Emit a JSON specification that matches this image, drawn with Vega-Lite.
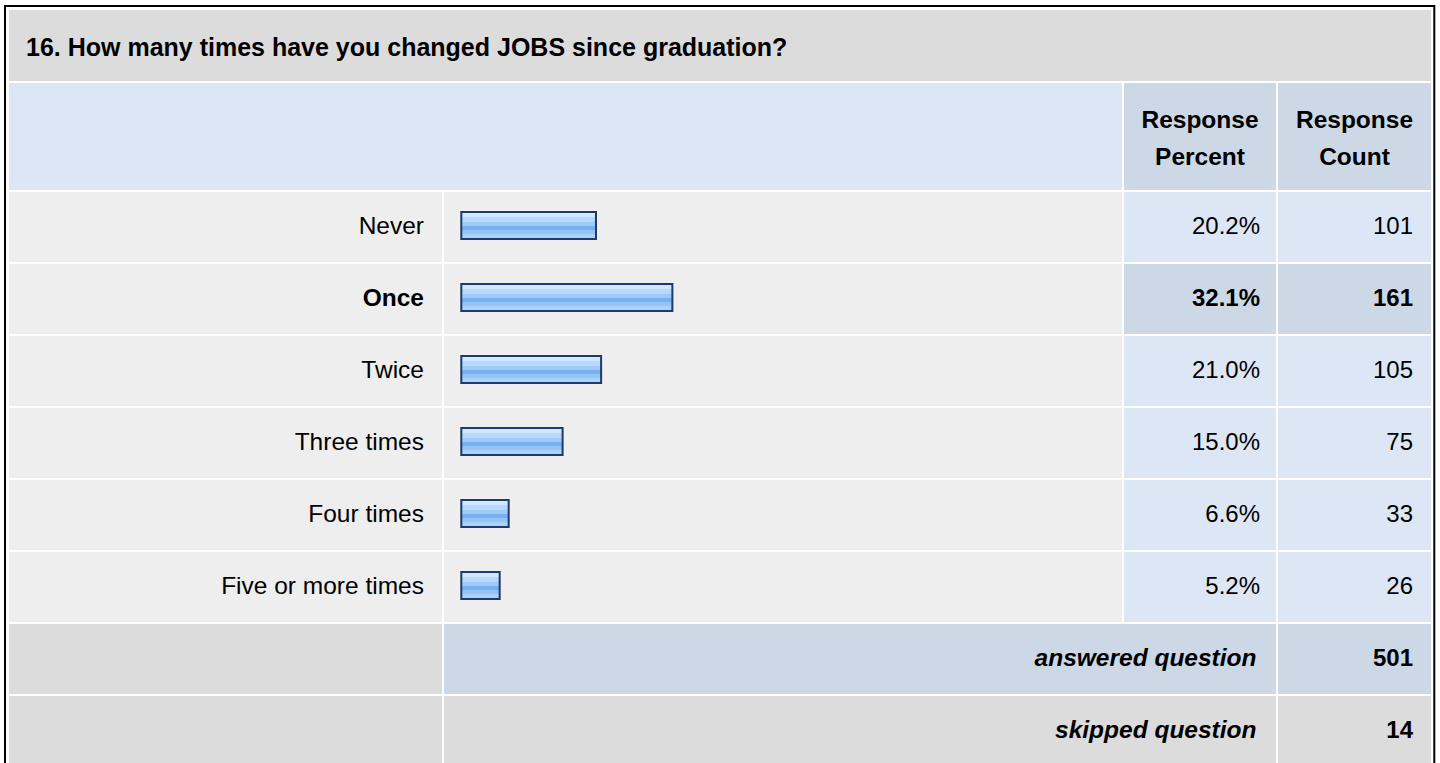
{
  "$schema": "https://vega.github.io/schema/vega-lite/v6.json",
  "background": "white",
  "padding": {"left": 4, "top": 5, "right": 4, "bottom": 0},
  "spacing": 2,
  "bounds": "flush",
  "config": {
    "view": {"stroke": null},
    "text": {"font": "Liberation Sans", "fontSize": 24, "color": "#000000", "baseline": "middle"}
  },
  "datasets": {
    "question": [{"question": "16. How many times have you changed JOBS since graduation?"}],
    "columns": [{"column": "Response Percent"}, {"column": "Response Count"}],
    "rows": [
      {"answer": "Never", "percent": 0.202, "count": 101},
      {"answer": "Once", "percent": 0.321, "count": 161},
      {"answer": "Twice", "percent": 0.21, "count": 105},
      {"answer": "Three times", "percent": 0.15, "count": 75},
      {"answer": "Four times", "percent": 0.066, "count": 33},
      {"answer": "Five or more times", "percent": 0.052, "count": 26},
      {"answer": "answered question", "percent": null, "count": 501},
      {"answer": "skipped question", "percent": null, "count": 14}
    ]
  },
  "vconcat": [
    {
      "width": 1422,
      "height": 71,
      "data": {"name": "question"},
      "resolve": {"scale": {"x": "independent", "y": "independent"}},
      "layer": [
        {"mark": {"type": "rect", "fill": "#DCDCDC"}, "encoding": {}},
        {
          "mark": {"type": "text", "align": "left", "fontWeight": "bold", "fontSize": 25, "dx": 17, "dy": 2},
          "encoding": {
            "x": {"field": "question", "type": "nominal", "axis": null, "bandPosition": 0, "scale": {"type": "band", "paddingInner": 0, "paddingOuter": 0}},
            "text": {"field": "question"}
          }
        },
        {
          "mark": {"type": "rect", "fillOpacity": 0, "stroke": "#000000", "strokeWidth": 2, "xOffset": -4, "x2Offset": 3.3, "yOffset": 687, "y2Offset": -4},
          "encoding": {
            "x": {"datum": 0, "type": "quantitative", "axis": null, "scale": {"domain": [0, 1], "nice": false}},
            "x2": {"datum": 1},
            "y": {"datum": 0, "type": "quantitative", "axis": null, "scale": {"domain": [0, 1], "nice": false}},
            "y2": {"datum": 1}
          }
        }
      ]
    },
    {
      "columns": 4,
      "spacing": 2,
      "bounds": "flush",
      "align": "each",
      "concat": [
        {
          "width": 433,
          "height": 107,
          "data": {"name": "question"},
          "mark": {"type": "rect", "fill": "#DCE6F4", "xOffset": 2},
          "encoding": {"x": {"value": "width"}}
        },
        {
          "width": 678,
          "height": 107,
          "data": {"name": "question"},
          "mark": {"type": "rect", "fill": "#DCE6F4"},
          "encoding": {}
        },
        {
          "width": 152,
          "height": 107,
          "data": {"name": "columns"},
          "transform": [{"filter": "datum.column === 'Response Percent'"}],
          "layer": [
            {"mark": {"type": "rect", "fill": "#CCD8E6"}, "encoding": {}},
            {
              "mark": {"type": "text", "align": "center", "fontWeight": "bold", "fontSize": 24.5, "lineBreak": " ", "lineHeight": 37, "dy": -16},
              "encoding": {"text": {"field": "column"}}
            }
          ]
        },
        {
          "width": 153,
          "height": 107,
          "data": {"name": "columns"},
          "transform": [{"filter": "datum.column === 'Response Count'"}],
          "layer": [
            {"mark": {"type": "rect", "fill": "#CCD8E6"}, "encoding": {}},
            {
              "mark": {"type": "text", "align": "center", "fontWeight": "bold", "fontSize": 24.5, "lineBreak": " ", "lineHeight": 37, "dy": -16},
              "encoding": {"text": {"field": "column"}}
            }
          ]
        },
        {
          "width": 433,
          "height": 574,
          "data": {"name": "rows"},
          "layer": [
            {
              "mark": {"type": "rect"},
              "encoding": {
                "y": {"field": "answer", "type": "nominal", "axis": null, "scale": {"type": "band", "domain": ["Never", "Once", "Twice", "Three times", "Four times", "Five or more times", "answered question", "skipped question"], "paddingInner": 0.0278, "paddingOuter": 0}},
                "fill": {"condition": {"test": "datum.percent == null", "value": "#DCDCDC"}, "value": "#EEEEEE"}
              }
            },
            {
              "transform": [{"filter": "datum.percent != null && datum.answer !== 'Once'"}],
              "mark": {"type": "text", "align": "right", "dx": -18, "fontSize": 24.5},
              "encoding": {
                "x": {"value": "width"},
                "y": {"field": "answer", "type": "nominal", "axis": null, "scale": {"type": "band", "domain": ["Never", "Once", "Twice", "Three times", "Four times", "Five or more times", "answered question", "skipped question"], "paddingInner": 0.0278, "paddingOuter": 0}},
                "text": {"field": "answer"}
              }
            },
            {
              "transform": [{"filter": "datum.answer === 'Once'"}],
              "mark": {"type": "text", "align": "right", "dx": -18, "fontSize": 24.5, "fontWeight": "bold"},
              "encoding": {
                "x": {"value": "width"},
                "y": {"field": "answer", "type": "nominal", "axis": null, "scale": {"type": "band", "domain": ["Never", "Once", "Twice", "Three times", "Four times", "Five or more times", "answered question", "skipped question"], "paddingInner": 0.0278, "paddingOuter": 0}},
                "text": {"field": "answer"}
              }
            }
          ]
        },
        {
          "width": 678,
          "height": 574,
          "data": {"name": "rows"},
          "resolve": {"scale": {"x": "independent"}},
          "layer": [
            {
              "transform": [{"filter": "datum.percent != null"}],
              "mark": {"type": "rect", "fill": "#EEEEEE"},
              "encoding": {
                "y": {"field": "answer", "type": "nominal", "axis": null, "scale": {"type": "band", "domain": ["Never", "Once", "Twice", "Three times", "Four times", "Five or more times", "answered question", "skipped question"], "paddingInner": 0.0278, "paddingOuter": 0}}
              }
            },
            {
              "transform": [{"filter": "datum.percent == null"}],
              "mark": {"type": "rect", "xOffset": 2},
              "encoding": {
                "x": {"value": "width"},
                "y": {"field": "answer", "type": "nominal", "axis": null, "scale": {"type": "band", "domain": ["Never", "Once", "Twice", "Three times", "Four times", "Five or more times", "answered question", "skipped question"], "paddingInner": 0.0278, "paddingOuter": 0}},
                "fill": {"condition": {"test": "datum.answer === 'answered question'", "value": "#CCD8E6"}, "value": "#DCDCDC"}
              }
            },
            {
              "transform": [{"filter": "datum.percent != null"}],
              "mark": {
                "type": "bar",
                "height": 27,
                "yOffset": -1.5,
                "xOffset": 22.3,
                "x2Offset": 17.3,
                "stroke": "#1F3A66",
                "strokeWidth": 2,
                "fill": {
                  "gradient": "linear", "x1": 0, "y1": 0, "x2": 0, "y2": 1,
                  "stops": [
                    {"offset": 0, "color": "#D2E8FF"}, {"offset": 0.2, "color": "#D2E8FF"},
                    {"offset": 0.2, "color": "#B4D8FE"}, {"offset": 0.37, "color": "#B4D8FE"},
                    {"offset": 0.37, "color": "#9ECBF9"}, {"offset": 0.52, "color": "#9ECBF9"},
                    {"offset": 0.52, "color": "#79AFEE"}, {"offset": 0.66, "color": "#79AFEE"},
                    {"offset": 0.66, "color": "#93C4F6"}, {"offset": 0.83, "color": "#93C4F6"},
                    {"offset": 0.83, "color": "#A9D2FB"}, {"offset": 1, "color": "#A9D2FB"}
                  ]
                }
              },
              "encoding": {
                "y": {"field": "answer", "type": "nominal", "axis": null, "scale": {"type": "band", "domain": ["Never", "Once", "Twice", "Three times", "Four times", "Five or more times", "answered question", "skipped question"], "paddingInner": 0.0278, "paddingOuter": 0}},
                "x": {"field": "percent", "type": "quantitative", "axis": null, "scale": {"domain": [0, 1.0561], "nice": false, "zero": true}},
                "x2": {"datum": 0}
              }
            }
          ]
        },
        {
          "width": 152,
          "height": 574,
          "data": {"name": "rows"},
          "layer": [
            {
              "mark": {"type": "rect"},
              "encoding": {
                "y": {"field": "answer", "type": "nominal", "axis": null, "scale": {"type": "band", "domain": ["Never", "Once", "Twice", "Three times", "Four times", "Five or more times", "answered question", "skipped question"], "paddingInner": 0.0278, "paddingOuter": 0}},
                "fill": {"condition": [{"test": "datum.answer === 'Once' || datum.answer === 'answered question'", "value": "#CCD8E6"}, {"test": "datum.answer === 'skipped question'", "value": "#DCDCDC"}], "value": "#DCE6F4"}
              }
            },
            {
              "transform": [{"filter": "datum.percent != null && datum.answer !== 'Once'"}],
              "mark": {"type": "text", "align": "right", "dx": -16},
              "encoding": {
                "x": {"value": "width"},
                "y": {"field": "answer", "type": "nominal", "axis": null, "scale": {"type": "band", "domain": ["Never", "Once", "Twice", "Three times", "Four times", "Five or more times", "answered question", "skipped question"], "paddingInner": 0.0278, "paddingOuter": 0}},
                "text": {"field": "percent", "type": "quantitative", "format": ".1%"}
              }
            },
            {
              "transform": [{"filter": "datum.answer === 'Once'"}],
              "mark": {"type": "text", "align": "right", "dx": -16, "fontWeight": "bold"},
              "encoding": {
                "x": {"value": "width"},
                "y": {"field": "answer", "type": "nominal", "axis": null, "scale": {"type": "band", "domain": ["Never", "Once", "Twice", "Three times", "Four times", "Five or more times", "answered question", "skipped question"], "paddingInner": 0.0278, "paddingOuter": 0}},
                "text": {"field": "percent", "type": "quantitative", "format": ".1%"}
              }
            },
            {
              "transform": [{"filter": "datum.percent == null"}],
              "mark": {"type": "text", "align": "right", "dx": -19.5, "fontSize": 24.5, "fontWeight": "bold", "fontStyle": "italic"},
              "encoding": {
                "x": {"value": "width"},
                "y": {"field": "answer", "type": "nominal", "axis": null, "scale": {"type": "band", "domain": ["Never", "Once", "Twice", "Three times", "Four times", "Five or more times", "answered question", "skipped question"], "paddingInner": 0.0278, "paddingOuter": 0}},
                "text": {"field": "answer"}
              }
            }
          ]
        },
        {
          "width": 153,
          "height": 574,
          "data": {"name": "rows"},
          "layer": [
            {
              "mark": {"type": "rect"},
              "encoding": {
                "y": {"field": "answer", "type": "nominal", "axis": null, "scale": {"type": "band", "domain": ["Never", "Once", "Twice", "Three times", "Four times", "Five or more times", "answered question", "skipped question"], "paddingInner": 0.0278, "paddingOuter": 0}},
                "fill": {"condition": [{"test": "datum.answer === 'Once' || datum.answer === 'answered question'", "value": "#CCD8E6"}, {"test": "datum.answer === 'skipped question'", "value": "#DCDCDC"}], "value": "#DCE6F4"}
              }
            },
            {
              "transform": [{"filter": "datum.percent != null && datum.answer !== 'Once'"}],
              "mark": {"type": "text", "align": "right", "dx": -18},
              "encoding": {
                "x": {"value": "width"},
                "y": {"field": "answer", "type": "nominal", "axis": null, "scale": {"type": "band", "domain": ["Never", "Once", "Twice", "Three times", "Four times", "Five or more times", "answered question", "skipped question"], "paddingInner": 0.0278, "paddingOuter": 0}},
                "text": {"field": "count", "type": "quantitative", "format": "d"}
              }
            },
            {
              "transform": [{"filter": "datum.answer === 'Once' || datum.percent == null"}],
              "mark": {"type": "text", "align": "right", "dx": -18, "fontWeight": "bold"},
              "encoding": {
                "x": {"value": "width"},
                "y": {"field": "answer", "type": "nominal", "axis": null, "scale": {"type": "band", "domain": ["Never", "Once", "Twice", "Three times", "Four times", "Five or more times", "answered question", "skipped question"], "paddingInner": 0.0278, "paddingOuter": 0}},
                "text": {"field": "count", "type": "quantitative", "format": "d"}
              }
            }
          ]
        }
      ]
    }
  ]
}
